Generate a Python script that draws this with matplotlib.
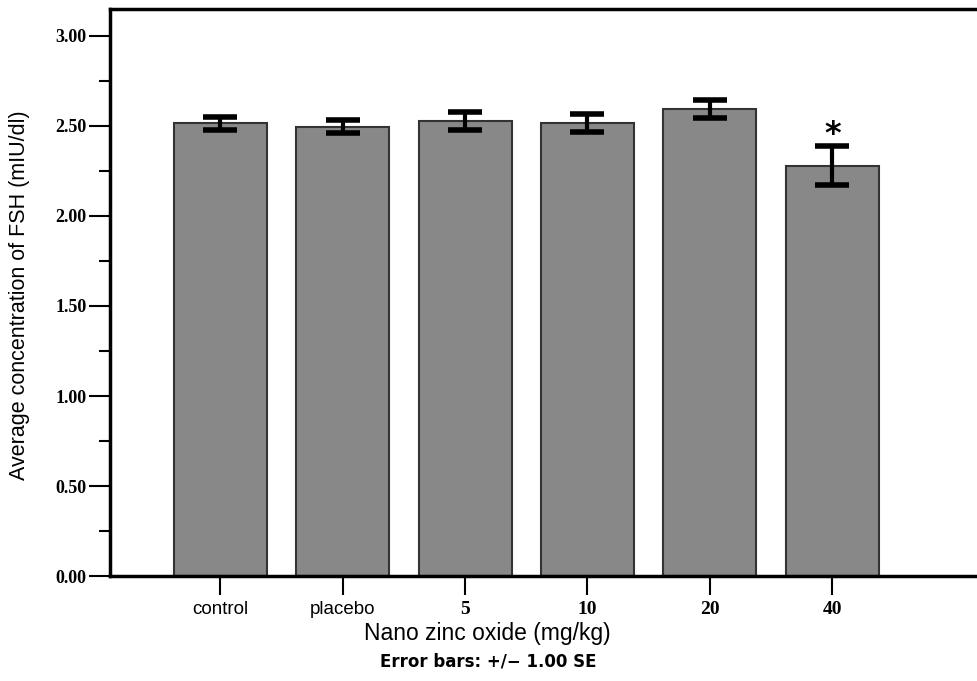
import matplotlib
matplotlib.use("Agg")
import matplotlib.pyplot as plt
from matplotlib.ticker import MultipleLocator

# --- data ---
groups = ["control", "placebo", "5", "10", "20", "40"]
fsh_mean = [2.515, 2.496, 2.528, 2.515, 2.594, 2.278]
fsh_se = [0.035, 0.037, 0.048, 0.049, 0.052, 0.108]
significant = [False, False, False, False, False, True]
y_ticks = [0.0, 0.5, 1.0, 1.5, 2.0, 2.5, 3.0]

fig = plt.figure(figsize=(9.78, 6.81), dpi=100)
ax = fig.add_axes([0.1125, 0.154, 0.8875, 0.833])

x = list(range(len(groups)))
ax.bar(x, fsh_mean, width=0.76, color="#888888", edgecolor="#333333", linewidth=1.5, zorder=2)
ax.errorbar(x, fsh_mean, yerr=fsh_se, fmt="none", ecolor="black",
            elinewidth=3, capsize=12, capthick=4, zorder=3)

# significance marks
for xi, m, s, sig in zip(x, fsh_mean, fsh_se, significant):
    if sig:
        ax.text(xi, m + s + 0.02, "*", ha="center", va="baseline",
                fontsize=23, fontweight="bold", family="DejaVu Sans")

ax.set_xlim(-0.9, 6.19)
ax.set_ylim(0, 3.15)

ax.set_yticks(y_ticks)
ax.set_yticklabels([f"{v:.2f}" for v in y_ticks], family="Liberation Serif",
                   fontweight="bold", fontsize=13)
ax.yaxis.set_minor_locator(MultipleLocator(0.25))
ax.tick_params(axis="y", which="major", length=15, width=1.5, direction="out", pad=2)
ax.tick_params(axis="y", which="minor", length=8, width=1.5, direction="out")

ax.set_xticks(x)
ax.set_xticklabels(groups)
ax.tick_params(axis="x", length=14, width=1.5, direction="out", pad=4)
for lab in ax.get_xticklabels():
    if lab.get_text().isdigit():
        lab.set_family("Liberation Serif")
        lab.set_fontweight("bold")
        lab.set_fontsize(14)
    else:
        lab.set_family("Liberation Sans")
        lab.set_fontsize(13.5)

for side in ["left", "bottom", "top"]:
    ax.spines[side].set_linewidth(2.5)
ax.spines["right"].set_visible(False)

ax.set_ylabel("Average concentration of FSH (mIU/dl)", family="Liberation Sans",
              fontsize=15.5, va="center")
ax.yaxis.set_label_coords(-0.104, 0.496)
ax.set_xlabel("Nano zinc oxide (mg/kg)", family="Liberation Sans", fontsize=16.5,
              va="center")
ax.xaxis.set_label_coords(0.435, -0.102)

fig.text(488 / 978, 1 - 661 / 681, "Error bars: +/\u2212 1.00 SE", ha="center", va="center",
         family="DejaVu Sans", fontweight="bold", fontsize=12)

fig.savefig("out.png", dpi=100)
plt.close(fig)
